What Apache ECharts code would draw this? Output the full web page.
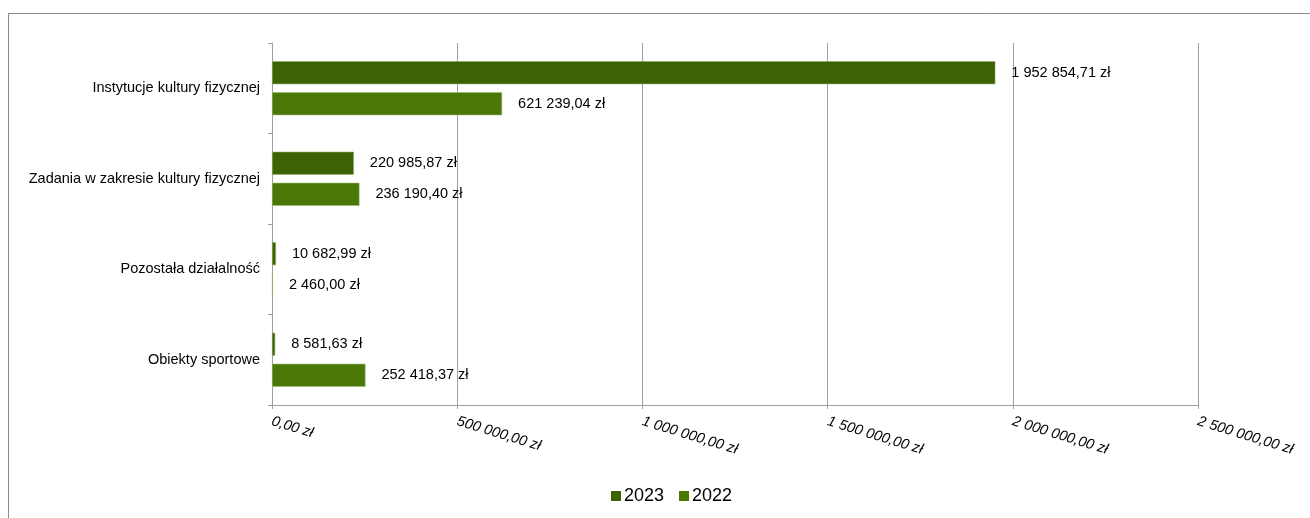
<!DOCTYPE html>
<html>
<head>
<meta charset="utf-8">
<script src="https://cdn.jsdelivr.net/npm/echarts@6/dist/echarts.min.js"></script>
<style>
  html, body { margin: 0; padding: 0; background: #fff; }
  #chart { width: 1310px; height: 518px; }
</style>
</head>
<body>
<div id="chart"></div>
<script>
// categories top -> bottom
const categories = [
  "Instytucje kultury fizycznej",
  "Zadania w zakresie kultury fizycznej",
  "Pozostała działalność",
  "Obiekty sportowe"
];
const values2023 = [1952854.71, 220985.87, 10682.99, 8581.63];
const values2022 = [621239.04, 236190.40, 2460.00, 252418.37];
const xTicks = [0, 500000, 1000000, 1500000, 2000000, 2500000];

const fmtZl = (v) => {
  const parts = v.toFixed(2).split(".");
  const int = parts[0].replace(/\B(?=(\d{3})+(?!\d))/g, " ");
  return int + "," + parts[1] + " zł";
};

const chart = echarts.init(document.getElementById("chart"));

const barLabel = {
  show: true,
  position: "right",
  distance: 16,
  color: "#000",
  fontFamily: "Liberation Sans, Arial, sans-serif",
  fontSize: 14.5,
  formatter: (p) => fmtZl(p.value)
};

chart.setOption({
  animation: false,
  textStyle: { fontFamily: "Liberation Sans, Arial, sans-serif" },
  graphic: [{
    type: "rect",
    shape: { x: 8.5, y: 13.5, width: 1400, height: 600 },
    style: { fill: "none", stroke: "#8a8a8a", lineWidth: 1 },
    silent: true
  }],
  legend: {
    left: 606,
    top: 482,
    itemWidth: 10,
    itemHeight: 10,
    itemGap: 15,
    icon: "rect",
    itemStyle: { borderWidth: 0 },
    textStyle: { fontSize: 18, color: "#000", padding: [0, 0, 0, -2] },
    data: ["2023", "2022"]
  },
  grid: { left: 272, top: 43, width: 926, height: 362, containLabel: false },
  xAxis: {
    type: "value",
    min: xTicks[0],
    max: xTicks[xTicks.length - 1],
    interval: 500000,
    axisLine: { show: true, lineStyle: { color: "#a0a0a0" } },
    axisTick: { show: true, length: 4, lineStyle: { color: "#a0a0a0" } },
    splitLine: { show: true, lineStyle: { color: "#a0a0a0" } },
    axisLabel: {
      rotate: -17,
      margin: 16,
      fontSize: 14.5,
      fontStyle: "italic",
      color: "#000",
      formatter: (v) => fmtZl(v)
    }
  },
  yAxis: {
    type: "category",
    inverse: true,
    data: categories,
    axisLine: { show: true, lineStyle: { color: "#a0a0a0" } },
    axisTick: { show: true, length: 4, lineStyle: { color: "#a0a0a0" } },
    axisLabel: { fontSize: 14.5, color: "#000", margin: 12 }
  },
  series: [
    {
      name: "2023",
      type: "bar",
      data: values2023,
      barWidth: 23,
      barGap: "35%",
      itemStyle: { color: "#3c6303", borderColor: "#8fae66", borderWidth: 0.6 },
      label: barLabel
    },
    {
      name: "2022",
      type: "bar",
      data: values2022,
      barWidth: 23,
      barGap: "35%",
      itemStyle: { color: "#4a7806", borderColor: "#9aba70", borderWidth: 0.6 },
      label: barLabel
    }
  ]
});
</script>
</body>
</html>
